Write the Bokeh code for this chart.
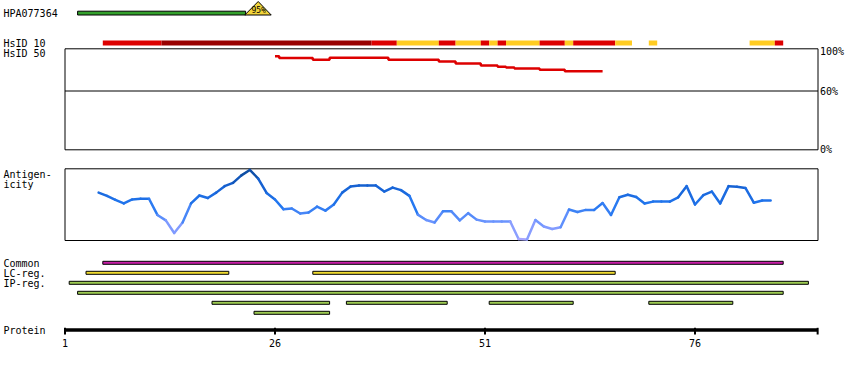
from bokeh.plotting import figure
from bokeh.models import Range1d
from bokeh.core.properties import value
from bokeh.embed import file_html
from bokeh.resources import INLINE

# ---------------- data ----------------
antigen_name = "HPA077364"
antigen_range = (3, 22)            # residues covered by the antigen
antigen_identity = "95%"

# HsID 10 track: residue ranges and conservation level
hsid10_ranges = [(6, 12), (13, 37), (38, 40), (41, 45), (46, 47), (48, 50), (51, 51),
                 (52, 52), (53, 53), (54, 57), (58, 60), (61, 61), (62, 66), (67, 68),
                 (71, 71), (83, 85), (86, 86)]
hsid10_level = ["mid", "high", "mid", "low", "mid", "low", "mid", "low", "mid", "low",
                "mid", "low", "mid", "low", "low", "low", "mid"]

# HsID 50 identity (%) per residue
hsid50_res = list(range(26, 66))
hsid50_pct = [95.5, 93.6, 93.6, 93.6, 93.6, 91.8, 91.8, 93.9, 93.9, 93.9,
              93.9, 93.9, 93.9, 93.9, 91.8, 91.8, 91.8, 91.8, 91.8, 91.8,
              90.1, 90.1, 88.1, 88.1, 88.1, 86.0, 86.0, 84.7, 84.0, 83.0,
              83.0, 83.0, 81.6, 81.6, 81.6, 80.1, 80.1, 80.1, 80.1, 80.1]

# Antigenicity per residue
antigenicity_res = list(range(5, 86))
antigenicity = [0.33, 0.24, 0.13, 0.03, 0.14, 0.16, 0.16, -0.29, -0.44, -0.79,
                -0.50, 0.03, 0.25, 0.18, 0.33, 0.51, 0.60, 0.81, 0.96, 0.72,
                0.32, 0.14, -0.13, -0.11, -0.25, -0.22, -0.06, -0.17, 0.00, 0.33,
                0.50, 0.53, 0.53, 0.53, 0.36, 0.47, 0.40, 0.24, -0.28, -0.43,
                -0.50, -0.19, -0.19, -0.44, -0.24, -0.42, -0.47, -0.47, -0.47, -0.47,
                -0.96, -0.97, -0.43, -0.61, -0.68, -0.63, -0.14, -0.21, -0.15, -0.15,
                0.04, -0.29, 0.20, 0.27, 0.21, 0.03, 0.08, 0.08, 0.08, 0.20,
                0.51, 0.00, 0.26, 0.36, 0.03, 0.51, 0.49, 0.46, 0.05, 0.11, 0.11]

common_regions = [(6, 86)]
lc_regions = [(4, 20), (31, 66)]
ip_rows = [[(2, 89)], [(3, 86)], [(19, 32), (35, 46), (52, 61), (71, 80)], [(24, 32)]]

protein_ticks = [1, 26, 51, 76]
pct_ticks = [100, 60, 0]
pct_labels = ["100%", "60%", "0%"]

# ---------------- layout constants (pixels) ----------------
W, H = 850, 370
X0, PXR = 64.5, 8.4          # pixel of residue 1, pixels per residue
AXIS_END = 90.6
FONT = value("DejaVu Sans Mono")

res_lo = 1 - X0 / PXR
res_hi = 1 + (W - X0) / PXR
def rx(px):
    return 1 + (px - X0) / PXR

p = figure(width=W, height=H, x_range=Range1d(0, W), y_range=Range1d(H, 0),
           output_backend="svg", toolbar_location=None, min_border=0,
           outline_line_color=None, background_fill_color="white")
p.axis.visible = False
p.grid.visible = False
p.extra_x_ranges = {"res": Range1d(res_lo, res_hi)}
# pct: y_px = 149.3 - 0.98*pct ; ag: y_px = 204 - 36*v
p.extra_y_ranges = {"pct": Range1d((149.3 - H) / 0.98, 149.3 / 0.98),
                    "ag": Range1d((204 - H) / 36.0, 204 / 36.0)}

def label(x, y, t, size="10px", align="left"):
    p.text(x=[x], y=[y], text=[t], text_font=FONT, text_font_size=size,
           text_baseline="middle", text_align=align, text_color="black")

# ---- antigen bar ----
label(3, 13, antigen_name)
p.quad(left=[antigen_range[0] - 0.5], right=[antigen_range[1] + 0.5], top=[10.7], bottom=[14.5],
       fill_color="#33a02c", line_color="black", line_width=1, x_range_name="res")
a_end = antigen_range[1] + 0.5
p.patch(x=[a_end - 0.1, a_end + 3.05, a_end + 1.5], y=[14.5, 14.5, 1.0],
        fill_color="#f2d43a", line_color="black", line_width=1, x_range_name="res")
p.text(x=[a_end + 1.55], y=[10.2], text=[antigen_identity], text_font=FONT,
       text_font_size="8px", text_baseline="middle", text_align="center",
       text_color="black", x_range_name="res")

# ---- HsID 10 ----
label(3, 42.5, "HsID 10")
lvl_col = {"high": "#990000", "mid": "#dd0000", "low": "#ffcc22"}
p.quad(left=[a - 0.5 for a, b in hsid10_ranges], right=[b + 0.5 for a, b in hsid10_ranges],
       top=[40] * len(hsid10_ranges), bottom=[45] * len(hsid10_ranges),
       fill_color=[lvl_col[l] for l in hsid10_level], line_color=None, x_range_name="res")

# ---- HsID 50 ----
label(3, 52.7, "HsID 50")
p.quad(left=[X0], right=[817.5], top=[48.3], bottom=[149.3], fill_color=None,
       line_color="black", line_width=1)
p.segment(x0=[X0], x1=[817.5], y0=[60], y1=[60], line_color="black", line_width=1,
          y_range_name="pct")
p.text(x=[819.5] * 3, y=pct_ticks, text=pct_labels, text_font=FONT, text_font_size="10px",
       text_baseline="middle", text_align="left", text_color="black", y_range_name="pct")
p.step(x=hsid50_res, y=hsid50_pct, mode="center", line_color="#dd0000", line_width=2.5,
       x_range_name="res", y_range_name="pct")

# ---- Antigenicity ----
label(3, 174, "Antigen-")
label(3, 184, "icity")
p.quad(left=[X0], right=[817.5], top=[168.3], bottom=[240], fill_color=None,
       line_color="black", line_width=1)

stops = [(-1.0, (172, 168, 255)), (-0.5, (112, 150, 255)), (0.0, (34, 119, 240)),
         (0.5, (22, 98, 212)), (1.0, (12, 72, 150))]
def ag_color(v):
    v = max(-1.0, min(1.0, v))
    for (v0, c0), (v1, c1) in zip(stops[:-1], stops[1:]):
        if v0 <= v <= v1:
            t = (v - v0) / (v1 - v0)
            c = [round(c0[i] + t * (c1[i] - c0[i])) for i in range(3)]
            return "#%02x%02x%02x" % tuple(c)
    return "#2277ee"

seg_cols = [ag_color((a + b) / 2) for a, b in zip(antigenicity[:-1], antigenicity[1:])]
p.segment(x0=antigenicity_res[:-1], x1=antigenicity_res[1:], y0=antigenicity[:-1],
          y1=antigenicity[1:], line_color=seg_cols, line_width=2.5, line_cap="round",
          x_range_name="res", y_range_name="ag")

# ---- regions ----
label(3, 262.5, "Common")
label(3, 272.5, "LC-reg.")
label(3, 282.5, "IP-reg.")

def bars(ranges, yc, color):
    p.quad(left=[a - 0.5 for a, b in ranges], right=[b + 0.5 for a, b in ranges],
           top=[yc - 1.5] * len(ranges), bottom=[yc + 1.5] * len(ranges),
           fill_color=color, line_color="black", line_width=1, x_range_name="res")

bars(common_regions, 262.3, "#c81fa8")
bars(lc_regions, 272.3, "#f0dc30")
for i, row in enumerate(ip_rows):
    bars(row, 282.3 + 10 * i, "#9dcb52")

# ---- protein axis ----
label(3, 330, "Protein")
p.quad(left=[1], right=[AXIS_END], top=[327.8], bottom=[331.3], fill_color="black",
       line_color=None, x_range_name="res")
tk = protein_ticks + [AXIS_END]
p.segment(x0=tk, x1=tk, y0=[327.3] * len(tk), y1=[334] * len(tk), line_color="black",
          line_width=2, x_range_name="res")
p.text(x=protein_ticks, y=[342.5] * len(protein_ticks), text=[str(t) for t in protein_ticks],
       text_font=FONT, text_font_size="10px", text_baseline="middle", text_align="center",
       text_color="black", x_range_name="res")

open("out.html", "w").write(file_html(p, INLINE))
